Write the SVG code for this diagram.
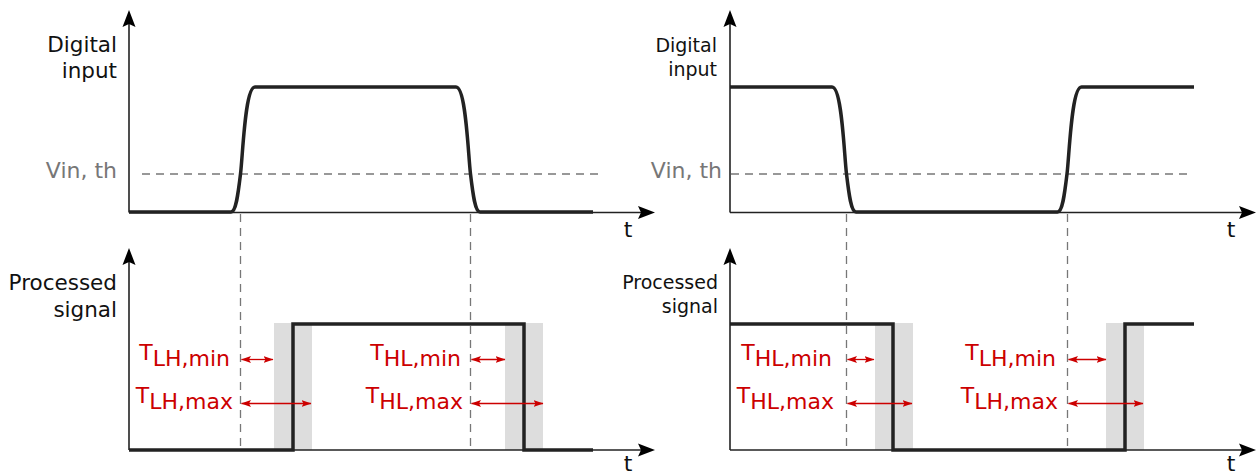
<svg xmlns="http://www.w3.org/2000/svg" width="1257" height="475" viewBox="0 0 1257 475">
<style>
text{font-family:"DejaVu Sans","Verdana",sans-serif;}
.lbl{font-size:21.5px;fill:#111;text-anchor:end;}
.lbls{font-size:19px;fill:#111;text-anchor:end;}
.vin{font-size:22px;fill:#777;text-anchor:end;}
.t{font-size:22px;fill:#111;text-anchor:middle;}
.red{font-size:22px;fill:#cc0000;text-anchor:end;}
.axis{stroke:#222;stroke-width:1.6;fill:none;}
.sig{stroke:#222;stroke-width:3.5;fill:none;stroke-linejoin:round;}
.psig{stroke:#222;stroke-width:3.5;fill:none;stroke-linejoin:miter;}
.dash{stroke:#777;stroke-width:1.3;stroke-dasharray:8,6;fill:none;}
.band{fill:#dddddd;}
.rarr{stroke:#cc0000;stroke-width:1.3;fill:none;marker-start:url(#ra);marker-end:url(#ra);}
.head{fill:#000;}
</style>
<defs>
<marker id="ra" viewBox="0 0 10 8" refX="9.5" refY="4" markerWidth="10" markerHeight="8" markerUnits="userSpaceOnUse" orient="auto-start-reverse">
<path d="M0,0.5 L10,4 L0,7.5 L2,4 Z" fill="#cc0000"/>
</marker>
<path id="upHead" d="M0,0 L-6.5,17 L0,14 L6.5,17 Z"/>
<path id="rightHead" d="M0,0 L-17,-6.5 L-14,0 L-17,6.5 Z"/>
</defs>

<!-- gray bands -->
<g id="bands">
<rect class="band" x="274" y="323" width="38" height="127"/>
<rect class="band" x="505" y="323" width="38" height="127"/>
<rect class="band" x="875" y="323" width="38" height="127"/>
<rect class="band" x="1106" y="323" width="38" height="127"/>
</g>

<!-- left panel -->
<g id="left-top-axes">
<line class="axis" x1="129" y1="212.5" x2="129" y2="20"/>
<use href="#upHead" x="129" y="10" class="head"/>
<line class="axis" x1="129" y1="212.5" x2="645" y2="212.5"/>
<use href="#rightHead" x="655" y="212.5" class="head"/>
<text class="lbl" x="117" y="52">Digital</text>
<text class="lbl" x="117" y="78">input</text>
<text class="vin" x="117" y="178">Vin, th</text>
<text class="t" x="628" y="237">t</text>
</g>
<g id="left-threshold">
<line class="dash" x1="142" y1="174" x2="602" y2="174"/>
</g>
<g id="left-input-signal">
<path class="sig" d="M129,212 H231 C236,212 238,195 240.5,174 C243,153 245,87 255,87 H456 C466,87 468,153 470.5,174 C473,195 475,212 480,212 H593"/>
</g>
<g id="left-bottom-axes">
<line class="axis" x1="129" y1="450" x2="129" y2="258"/>
<use href="#upHead" x="129" y="248" class="head"/>
<line class="axis" x1="129" y1="450" x2="645" y2="450"/>
<use href="#rightHead" x="655" y="450" class="head"/>
<text class="lbl" x="117" y="290">Processed</text>
<text class="lbl" x="117" y="317">signal</text>
<text class="t" x="628" y="471">t</text>
</g>
<g id="left-processed-signal">
<path class="psig" d="M129,450 H293 V324 H524 V450 H593"/>
</g>

<!-- right panel -->
<g id="right-top-axes">
<line class="axis" x1="730" y1="212.5" x2="730" y2="20"/>
<use href="#upHead" x="730" y="10" class="head"/>
<line class="axis" x1="730" y1="212.5" x2="1246" y2="212.5"/>
<use href="#rightHead" x="1256" y="212.5" class="head"/>
<text class="lbls" x="717" y="52">Digital</text>
<text class="lbls" x="717" y="76">input</text>
<text class="vin" x="722" y="178">Vin, th</text>
<text class="t" x="1231" y="237">t</text>
</g>
<g id="right-threshold">
<line class="dash" x1="731" y1="174" x2="1188" y2="174"/>
</g>
<g id="right-input-signal">
<path class="sig" d="M730,87 H832 C842,87 844,153 846.5,174 C849,195 851,212 856,212 H1057.5 C1062.5,212 1064.5,195 1067,174 C1069.5,153 1071.5,87 1081.5,87 H1194"/>
</g>
<g id="right-bottom-axes">
<line class="axis" x1="730" y1="450" x2="730" y2="258"/>
<use href="#upHead" x="730" y="248" class="head"/>
<line class="axis" x1="730" y1="450" x2="1246" y2="450"/>
<use href="#rightHead" x="1256" y="450" class="head"/>
<text class="lbls" x="718" y="289">Processed</text>
<text class="lbls" x="718" y="313">signal</text>
<text class="t" x="1231" y="471">t</text>
</g>
<g id="right-processed-signal">
<path class="psig" d="M730,324 H893 V450 H1125 V324 H1194"/>
</g>

<!-- vertical dashed guides -->
<g id="guides">
<line class="dash" x1="240.5" y1="214" x2="240.5" y2="450"/>
<line class="dash" x1="470.5" y1="214" x2="470.5" y2="450"/>
<line class="dash" x1="846.5" y1="214" x2="846.5" y2="450"/>
<line class="dash" x1="1067.5" y1="214" x2="1067.5" y2="450"/>
</g>

<!-- timing arrows -->
<g id="connectors">
<line class="rarr" x1="241.5" y1="359.5" x2="273" y2="359.5"/>
<line class="rarr" x1="241.5" y1="403.5" x2="311" y2="403.5"/>
<line class="rarr" x1="471.5" y1="359.5" x2="505" y2="359.5"/>
<line class="rarr" x1="471.5" y1="403.5" x2="543" y2="403.5"/>
<line class="rarr" x1="847.5" y1="359.5" x2="874" y2="359.5"/>
<line class="rarr" x1="847.5" y1="403.5" x2="912" y2="403.5"/>
<line class="rarr" x1="1068.5" y1="359.5" x2="1106" y2="359.5"/>
<line class="rarr" x1="1068.5" y1="403.5" x2="1143" y2="403.5"/>
</g>

<!-- timing labels -->
<g id="labels">
<text class="red" x="230" y="360">T<tspan dy="6">LH,min</tspan></text>
<text class="red" x="233" y="403">T<tspan dy="6">LH,max</tspan></text>
<text class="red" x="461" y="360">T<tspan dy="6">HL,min</tspan></text>
<text class="red" x="463" y="403">T<tspan dy="6">HL,max</tspan></text>
<text class="red" x="832" y="360">T<tspan dy="6">HL,min</tspan></text>
<text class="red" x="834" y="403">T<tspan dy="6">HL,max</tspan></text>
<text class="red" x="1056" y="360">T<tspan dy="6">LH,min</tspan></text>
<text class="red" x="1058" y="403">T<tspan dy="6">LH,max</tspan></text>
</g>
</svg>
